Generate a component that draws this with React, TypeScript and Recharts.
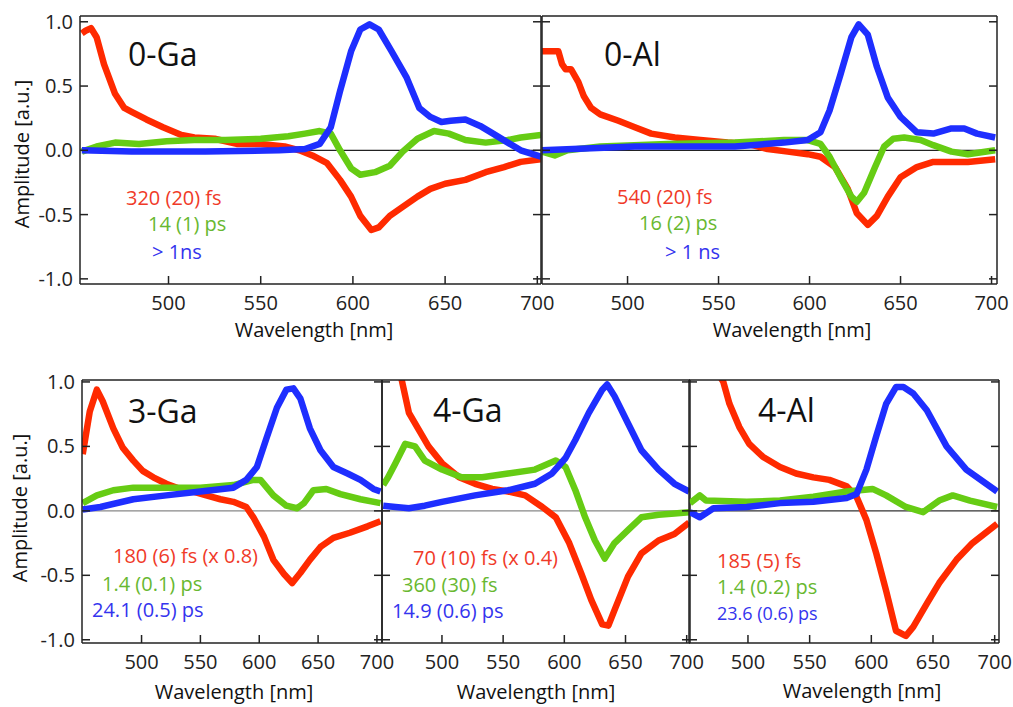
import { LineChart, Line, XAxis, YAxis, ReferenceLine } from 'recharts'

const X_TICKS = [500, 550, 600, 650, 700]
const Y_TICKS = [-1, -0.5, 0, 0.5, 1]

// 0-Ga
const oGaRedWl = [453, 455, 458, 461, 465, 471, 476, 480, 488, 497, 507, 514, 525, 537, 550, 563, 571, 578, 586, 593, 599, 604, 610, 614, 620, 627, 635, 642, 650, 661, 672, 682, 691, 702]
const oGaRed = [0.91, 0.93, 0.95, 0.88, 0.67, 0.44, 0.33, 0.3, 0.24, 0.18, 0.12, 0.1, 0.09, 0.05, 0.05, 0.03, 0.0, -0.04, -0.1, -0.23, -0.36, -0.51, -0.62, -0.6, -0.51, -0.44, -0.36, -0.3, -0.26, -0.23, -0.17, -0.13, -0.09, -0.07]
const oGaGreenWl = [453, 461, 471, 484, 499, 514, 531, 550, 565, 574, 582, 588, 593, 599, 604, 612, 620, 627, 635, 644, 652, 661, 672, 684, 691, 702]
const oGaGreen = [-0.01, 0.03, 0.06, 0.05, 0.07, 0.08, 0.08, 0.09, 0.11, 0.13, 0.15, 0.13, 0.0, -0.14, -0.19, -0.17, -0.12, -0.01, 0.09, 0.15, 0.13, 0.08, 0.06, 0.08, 0.1, 0.12]
const oGaBlueWl = [453, 480, 520, 560, 574, 582, 588, 593, 599, 604, 609, 614, 621, 629, 636, 642, 648, 653, 661, 669, 676, 684, 691, 702]
const oGaBlue = [0.0, -0.01, -0.01, 0.0, 0.01, 0.05, 0.18, 0.46, 0.77, 0.94, 0.98, 0.94, 0.77, 0.57, 0.33, 0.26, 0.22, 0.23, 0.24, 0.19, 0.13, 0.06, 0.0, -0.05]

// 0-Al
const oAlRedWl = [453, 462, 464, 466, 469, 473, 476, 480, 485, 495, 504, 513, 526, 540, 555, 566, 577, 588, 599, 606, 614, 621, 626, 632, 637, 643, 650, 659, 668, 678, 687, 702]
const oAlRed = [0.77, 0.77, 0.67, 0.63, 0.63, 0.53, 0.42, 0.33, 0.28, 0.23, 0.18, 0.13, 0.1, 0.08, 0.06, 0.05, 0.01, -0.01, -0.03, -0.05, -0.13, -0.3, -0.49, -0.58, -0.51, -0.36, -0.21, -0.13, -0.09, -0.09, -0.09, -0.07]
const oAlGreenWl = [453, 460, 467, 485, 522, 559, 586, 599, 606, 611, 617, 623, 626, 630, 636, 641, 646, 652, 661, 668, 678, 687, 702]
const oAlGreen = [-0.01, -0.04, 0.0, 0.03, 0.05, 0.06, 0.08, 0.08, 0.05, -0.05, -0.21, -0.36, -0.4, -0.33, -0.13, 0.03, 0.09, 0.1, 0.08, 0.04, -0.01, -0.03, 0.0]
const oAlBlueWl = [453, 504, 559, 586, 599, 606, 611, 617, 623, 627, 632, 637, 643, 650, 659, 668, 678, 685, 692, 702]
const oAlBlue = [0.0, 0.03, 0.03, 0.06, 0.08, 0.14, 0.31, 0.59, 0.88, 0.98, 0.9, 0.65, 0.41, 0.26, 0.14, 0.13, 0.17, 0.17, 0.13, 0.1]

// 3-Ga
const tGaRedWl = [450, 456, 462, 467, 476, 484, 493, 501, 510, 521, 533, 544, 555, 567, 578, 589, 595, 604, 612, 621, 628, 635, 643, 652, 663, 677, 692, 703]
const tGaRed = [0.44, 0.77, 0.94, 0.85, 0.64, 0.49, 0.39, 0.31, 0.26, 0.21, 0.17, 0.15, 0.12, 0.09, 0.07, 0.03, -0.05, -0.2, -0.38, -0.49, -0.56, -0.48, -0.38, -0.28, -0.21, -0.17, -0.12, -0.08]
const tGaGreenWl = [450, 462, 476, 493, 521, 550, 578, 595, 601, 612, 623, 632, 638, 646, 657, 669, 686, 703]
const tGaGreen = [0.06, 0.12, 0.16, 0.18, 0.18, 0.18, 0.2, 0.24, 0.24, 0.12, 0.04, 0.02, 0.06, 0.16, 0.17, 0.13, 0.09, 0.06]
const tGaBlueWl = [450, 465, 493, 521, 550, 578, 589, 598, 606, 615, 623, 629, 635, 643, 652, 663, 675, 686, 697, 703]
const tGaBlue = [0.01, 0.03, 0.09, 0.12, 0.15, 0.18, 0.24, 0.34, 0.56, 0.8, 0.94, 0.95, 0.87, 0.64, 0.47, 0.34, 0.29, 0.24, 0.17, 0.15]

// 4-Ga
const fGaRedWl = [452, 460, 467, 473, 481, 489, 500, 514, 527, 541, 554, 568, 582, 593, 604, 614, 622, 631, 636, 641, 652, 663, 677, 690, 702]
const fGaRed = [1.8, 1.3, 1.02, 0.76, 0.63, 0.5, 0.37, 0.26, 0.21, 0.17, 0.15, 0.12, 0.03, -0.05, -0.25, -0.49, -0.69, -0.88, -0.89, -0.77, -0.51, -0.33, -0.23, -0.18, -0.09]
const fGaGreenWl = [452, 456, 462, 470, 478, 486, 500, 516, 533, 554, 576, 593, 601, 609, 617, 625, 633, 641, 652, 663, 677, 690, 702]
const fGaGreen = [0.2, 0.26, 0.37, 0.52, 0.5, 0.39, 0.32, 0.26, 0.26, 0.29, 0.32, 0.39, 0.34, 0.16, -0.05, -0.23, -0.37, -0.25, -0.15, -0.05, -0.03, -0.02, -0.01]
const fGaBlueWl = [452, 462, 473, 486, 500, 527, 554, 576, 590, 601, 609, 620, 631, 635, 641, 652, 663, 677, 690, 702]
const fGaBlue = [0.04, 0.03, 0.02, 0.04, 0.07, 0.12, 0.16, 0.21, 0.29, 0.41, 0.55, 0.76, 0.94, 0.98, 0.89, 0.68, 0.47, 0.32, 0.21, 0.15]

// 4-Al
const fAlRedWl = [452, 465, 475, 480, 485, 493, 501, 512, 526, 539, 553, 566, 580, 588, 596, 604, 612, 620, 628, 634, 645, 655, 669, 682, 702]
const fAlRed = [1.6, 1.25, 1.08, 1.0, 0.83, 0.65, 0.52, 0.42, 0.34, 0.29, 0.26, 0.24, 0.19, 0.11, -0.07, -0.33, -0.62, -0.93, -0.97, -0.9, -0.72, -0.56, -0.38, -0.25, -0.1]
const fAlGreenWl = [453, 461, 466, 499, 526, 553, 580, 601, 612, 628, 642, 655, 666, 680, 702]
const fAlGreen = [0.06, 0.12, 0.08, 0.07, 0.08, 0.11, 0.15, 0.17, 0.12, 0.03, -0.01, 0.08, 0.12, 0.08, 0.03]
const fAlBlueWl = [453, 461, 472, 499, 526, 553, 580, 588, 596, 604, 612, 620, 626, 634, 645, 661, 677, 702]
const fAlBlue = [-0.01, -0.05, 0.02, 0.03, 0.06, 0.07, 0.1, 0.13, 0.32, 0.58, 0.83, 0.96, 0.96, 0.91, 0.78, 0.5, 0.32, 0.15]

const RED = '#ff2a00'
const GREEN = '#66cc14'
const BLUE = '#1e2eff'
const FONT = '"Open Sans", sans-serif'
const AXIS = '#222'

const pts = (wl: number[], amp: number[]) => wl.map((w, i) => ({ wl: w, v: amp[i] }))

interface PanelProps {
  left: number
  top: number
  width: number
  height: number
  yWidth: number
  marginTop: number
  xDomain: [number, number]
  yDomain: [number, number]
  showY: boolean
  zero: string
  series: { color: string; data: { wl: number; v: number }[] }[]
}

function Panel({ left, top, width, height, yWidth, marginTop, xDomain, yDomain, showY, zero, series }: PanelProps) {
  const tick = { fill: '#222', fontSize: 20, fontFamily: FONT }
  const line = { stroke: AXIS, strokeWidth: 1.5 }
  return (
    <div style={{ position: 'absolute', left, top }}>
      <LineChart width={width} height={height} margin={{ top: marginTop, right: 14, bottom: 0, left: 0 }}>
        <XAxis
          dataKey="wl"
          type="number"
          domain={xDomain}
          ticks={X_TICKS}
          allowDataOverflow
          height={56}
          tick={tick}
          tickSize={-8}
          tickMargin={20}
          axisLine={line}
          tickLine={line}
        />
        <XAxis
          xAxisId="top"
          orientation="top"
          type="number"
          domain={xDomain}
          ticks={X_TICKS}
          allowDataOverflow
          height={1}
          tickFormatter={() => ''}
          tickSize={-8}
          axisLine={line}
          tickLine={line}
        />
        <YAxis
          type="number"
          domain={yDomain}
          ticks={Y_TICKS}
          allowDataOverflow
          width={yWidth}
          tick={tick}
          tickFormatter={(v: number) => (showY ? v.toFixed(1) : '')}
          tickSize={-8}
          tickMargin={15}
          axisLine={line}
          tickLine={line}
        />
        <YAxis
          yAxisId="right"
          orientation="right"
          type="number"
          domain={yDomain}
          ticks={Y_TICKS}
          allowDataOverflow
          width={1}
          tickFormatter={() => ''}
          tickSize={-8}
          axisLine={line}
          tickLine={line}
        />
        <ReferenceLine y={0} stroke={zero} strokeWidth={1.3} />
        {series.map((s, i) => (
          <Line
            key={i}
            data={s.data}
            dataKey="v"
            type="linear"
            stroke={s.color}
            strokeWidth={6.5}
            strokeLinejoin="round"
            dot={false}
            isAnimationActive={false}
          />
        ))}
      </LineChart>
    </div>
  )
}

function Label({ x, y, text, color = '#111', size = 20, rotate = false, center = false }: any) {
  return (
    <div
      style={{
        position: 'absolute',
        left: x,
        top: y,
        color,
        fontSize: size,
        fontFamily: FONT,
        lineHeight: 1,
        whiteSpace: 'nowrap',
        transform: rotate
          ? 'translate(-50%, -50%) rotate(-90deg)'
          : center
            ? 'translate(-50%, -50%)'
            : 'translateY(-50%)',
      }}
    >
      {text}
    </div>
  )
}

const TR = '#f03a28'
const TG = '#68b830'
const TB = '#3434ee'

export default function App() {
  return (
    <div style={{ position: 'absolute', left: 0, top: 0, width: 1013, height: 707, overflow: 'hidden', background: '#fff' }}>
      <Panel
        left={0} top={0} width={556} height={340} yWidth={80} marginTop={15}
        xDomain={[452, 702]} yDomain={[-1.04, 1.045]} showY zero="#222"
        series={[
          { color: RED, data: pts(oGaRedWl, oGaRed) },
          { color: GREEN, data: pts(oGaGreenWl, oGaGreen) },
          { color: BLUE, data: pts(oGaBlueWl, oGaBlue) },
        ]}
      />
      <Panel
        left={500} top={0} width={512} height={340} yWidth={42} marginTop={15}
        xDomain={[453, 703]} yDomain={[-1.04, 1.045]} showY={false} zero="#222"
        series={[
          { color: RED, data: pts(oAlRedWl, oAlRed) },
          { color: GREEN, data: pts(oAlGreenWl, oAlGreen) },
          { color: BLUE, data: pts(oAlBlueWl, oAlBlue) },
        ]}
      />
      <Panel
        left={0} top={362} width={397} height={337} yWidth={82} marginTop={17}
        xDomain={[449.4, 704.3]} yDomain={[-1.025, 1.015]} showY zero="#888"
        series={[
          { color: RED, data: pts(tGaRedWl, tGaRed) },
          { color: GREEN, data: pts(tGaGreenWl, tGaGreen) },
          { color: BLUE, data: pts(tGaBlueWl, tGaBlue) },
        ]}
      />
      <Panel
        left={340} top={362} width={365} height={337} yWidth={42} marginTop={17}
        xDomain={[451, 702.7]} yDomain={[-1.025, 1.015]} showY={false} zero="#888"
        series={[
          { color: RED, data: pts(fGaRedWl, fGaRed) },
          { color: GREEN, data: pts(fGaGreenWl, fGaGreen) },
          { color: BLUE, data: pts(fGaBlueWl, fGaBlue) },
        ]}
      />
      <Panel
        left={647} top={362} width={367} height={337} yWidth={42} marginTop={17}
        xDomain={[452.2, 703.5]} yDomain={[-1.025, 1.015]} showY={false} zero="#333"
        series={[
          { color: RED, data: pts(fAlRedWl, fAlRed) },
          { color: GREEN, data: pts(fAlGreenWl, fAlGreen) },
          { color: BLUE, data: pts(fAlBlueWl, fAlBlue) },
        ]}
      />

      {/* panel titles */}
      <Label x={128} y={54} text="0-Ga" size={32} />
      <Label x={604} y={54} text="0-Al" size={32} />
      <Label x={128} y={411} text="3-Ga" size={32} />
      <Label x={433} y={410} text="4-Ga" size={32} />
      <Label x={758} y={410} text="4-Al" size={32} />

      {/* lifetimes */}
      <Label x={126} y={198} text="320 (20) fs" color={TR} />
      <Label x={148} y={224} text="14 (1) ps" color={TG} />
      <Label x={152} y={252} text="> 1ns" color={TB} />
      <Label x={617} y={197} text="540 (20) fs" color={TR} />
      <Label x={639} y={223} text="16 (2) ps" color={TG} />
      <Label x={665} y={252} text="> 1 ns" color={TB} />
      <Label x={113} y={556} text="180 (6) fs (x 0.8)" color={TR} />
      <Label x={102} y={584} text="1.4 (0.1) ps" color={TG} />
      <Label x={92} y={610} text="24.1 (0.5) ps" color={TB} />
      <Label x={413} y={558} text="70 (10) fs (x 0.4)" color={TR} />
      <Label x={402} y={585} text="360 (30) fs" color={TG} />
      <Label x={392} y={611} text="14.9 (0.6) ps" color={TB} />
      <Label x={717} y={561} text="185 (5) fs" color={TR} />
      <Label x={717} y={587} text="1.4 (0.2) ps" color={TG} />
      <Label x={717} y={613} text="23.6 (0.6) ps" color={TB} size={18} />

      {/* axis titles */}
      <Label x={22} y={154} text="Amplitude [a.u.]" rotate />
      <Label x={20} y={508} text="Amplitude [a.u.]" rotate />
      <Label x={314} y={330} text="Wavelength [nm]" center />
      <Label x={792} y={330} text="Wavelength [nm]" center />
      <Label x={234} y={692} text="Wavelength [nm]" center />
      <Label x={536} y={692} text="Wavelength [nm]" center />
      <Label x={862} y={691} text="Wavelength [nm]" center />
    </div>
  )
}
